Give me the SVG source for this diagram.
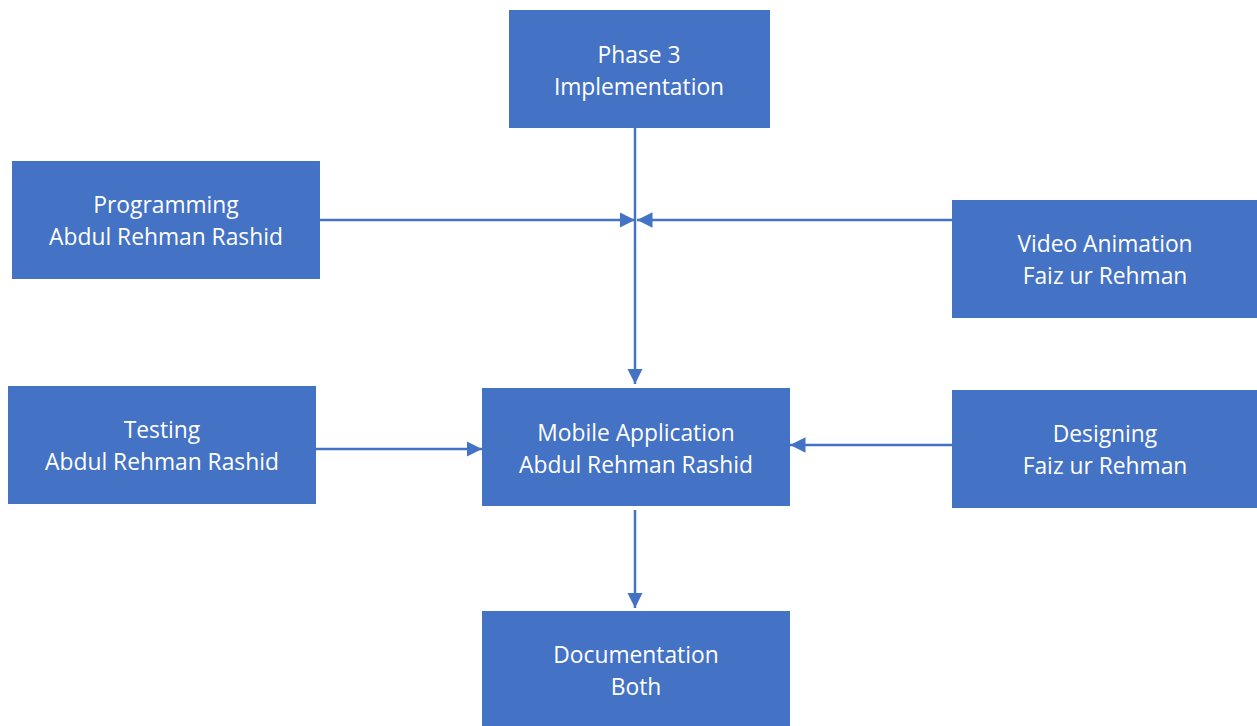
<svg xmlns="http://www.w3.org/2000/svg" width="1257" height="726" viewBox="0 0 1257 726">
  <style>
    .box { fill: #4472C4; }
    .lbl { fill: #FFFFFF; font-family: "Open Sans", "Liberation Sans", sans-serif; font-size: 22.8px; text-anchor: middle; }
    .wire { stroke: #4472C4; stroke-width: 2.5; fill: none; }
  </style>
  <defs>
    <marker id="head" viewBox="0 0 10 10" refX="10" refY="5" markerWidth="6.2" markerHeight="6.2" orient="auto" markerUnits="strokeWidth">
      <path d="M0,0 L10,5 L0,10 Z" fill="#4472C4"/>
    </marker>
  </defs>
  <rect width="1257" height="726" fill="#FFFFFF"/>

  <g id="connectors">
    <line class="wire" x1="635" y1="128" x2="635" y2="384" marker-end="url(#head)"/>
    <line class="wire" x1="320" y1="220" x2="635" y2="220" marker-end="url(#head)"/>
    <line class="wire" x1="952" y1="220" x2="637" y2="220" marker-end="url(#head)"/>
    <line class="wire" x1="316" y1="449" x2="482" y2="449" marker-end="url(#head)"/>
    <line class="wire" x1="952" y1="445" x2="790" y2="445" marker-end="url(#head)"/>
    <line class="wire" x1="635" y1="510" x2="635" y2="608" marker-end="url(#head)"/>
  </g>

  <g id="phase3">
    <rect class="box" x="509" y="10" width="261" height="118"/>
    <text class="lbl" x="639" y="63">Phase 3</text>
    <text class="lbl" x="639" y="95">Implementation</text>
  </g>
  <g id="programming">
    <rect class="box" x="12" y="161" width="308" height="118"/>
    <text class="lbl" x="166" y="213">Programming</text>
    <text class="lbl" x="166" y="245">Abdul Rehman Rashid</text>
  </g>
  <g id="video-animation">
    <rect class="box" x="952" y="200" width="305" height="118"/>
    <text class="lbl" x="1105" y="252">Video Animation</text>
    <text class="lbl" x="1105" y="284">Faiz ur Rehman</text>
  </g>
  <g id="testing">
    <rect class="box" x="8" y="386" width="308" height="118"/>
    <text class="lbl" x="162" y="438">Testing</text>
    <text class="lbl" x="162" y="470">Abdul Rehman Rashid</text>
  </g>
  <g id="mobile-app">
    <rect class="box" x="482" y="388" width="308" height="118"/>
    <text class="lbl" x="636" y="441">Mobile Application</text>
    <text class="lbl" x="636" y="473">Abdul Rehman Rashid</text>
  </g>
  <g id="designing">
    <rect class="box" x="952" y="390" width="305" height="118"/>
    <text class="lbl" x="1105" y="442">Designing</text>
    <text class="lbl" x="1105" y="474">Faiz ur Rehman</text>
  </g>
  <g id="documentation">
    <rect class="box" x="482" y="611" width="308" height="115"/>
    <text class="lbl" x="636" y="663">Documentation</text>
    <text class="lbl" x="636" y="695">Both</text>
  </g>
</svg>
